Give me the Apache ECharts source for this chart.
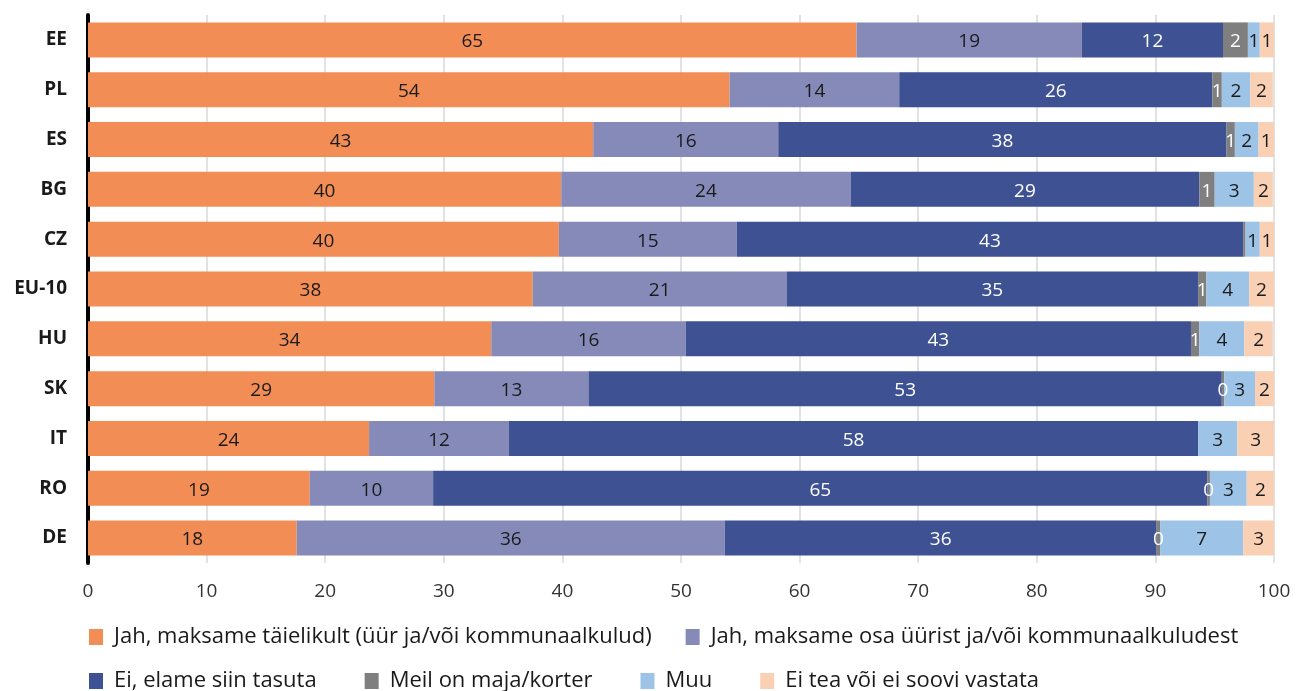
<!DOCTYPE html>
<html>
<head>
<meta charset="utf-8">
<script src="https://cdn.jsdelivr.net/npm/echarts@6/dist/echarts.min.js"></script>
<style>
html,body{margin:0;padding:0;background:#fff;}
#c{width:1297px;height:691px;}
</style>
</head>
<body>
<div id="c"></div>
<script>
const categories = ['EE','PL','ES','BG','CZ','EU-10','HU','SK','IT','RO','DE'];
const seriesNames = [
  'Jah, maksame täielikult (üür ja/või kommunaalkulud)',
  'Jah, maksame osa üürist ja/või kommunaalkuludest',
  'Ei, elame siin tasuta',
  'Meil on maja/korter',
  'Muu',
  'Ei tea või ei soovi vastata'
];
const payFull    = [64.8, 54.1, 42.6, 39.9, 39.7, 37.5, 34.0, 29.2, 23.7, 18.7, 17.6];
const payPartial = [19.0, 14.3, 15.6, 24.4, 15.0, 21.4, 16.4, 13.0, 11.8, 10.4, 36.1];
const liveFree   = [11.9, 26.4, 37.8, 29.4, 42.7, 34.7, 42.6, 53.4, 58.1, 65.3, 36.4];
const ownHome    = [2.1, 0.8, 0.7, 1.3, 0.2, 0.7, 0.7, 0.2, null, 0.2, 0.3];
const other      = [1.0, 2.4, 2.0, 3.3, 1.2, 3.6, 3.8, 2.6, 3.3, 3.1, 7.0];
const dontKnow   = [1.2, 1.9, 1.3, 1.6, 1.2, 2.1, 2.4, 1.6, 3.1, 2.3, 2.6];
const hiddenOwnLabels = ['CZ'];
const xTicks = [0,10,20,30,40,50,60,70,80,90,100];

const colors = ['#F28E55','#868AB9','#3E5192','#7F7F7F','#9DC3E6','#F9D0B4'];
const labelColors = ['#1a1a1a','#1a1a1a','#ffffff','#ffffff','#1a1a1a','#1a1a1a'];
const allData = [payFull, payPartial, liveFree, ownHome, other, dontKnow];

const FONT = 'Open Sans';
const chart = echarts.init(document.getElementById('c'), null, {renderer:'canvas'});
const series = allData.map((d, i) => ({
  name: seriesNames[i],
  type: 'bar',
  stack: 'total',
  barWidth: 35,
  data: d,
  itemStyle: {color: colors[i]},
  label: {
    show: true,
    position: 'inside',
    color: labelColors[i],
    fontFamily: FONT,
    fontSize: 19,
    offset: [0, 2],
    formatter: p => {
      if (p.value == null) return '';
      if (i === 3 && hiddenOwnLabels.indexOf(p.name) >= 0) return '';
      return String(Math.round(p.value));
    }
  },
  emphasis: {disabled: true}
}));

const legendText = {fontFamily: FONT, fontSize: 22, color: '#1a1a1a', padding: [0, 0, 0, 6]};
chart.setOption({
  animation: false,
  textStyle: {fontFamily: FONT},
  grid: {left: 88, right: 23, top: 15, height: 548, containLabel: false},
  xAxis: {
    type: 'value', min: 0, max: 100, interval: 10,
    axisLine: {show: false}, axisTick: {show: false},
    axisLabel: {fontFamily: FONT, fontSize: 19, color: '#333', margin: 19,
      formatter: v => xTicks.indexOf(v) >= 0 ? String(v) : ''},
    splitLine: {show: true, lineStyle: {color: '#D9D9D9', width: 1.5}}
  },
  yAxis: {
    type: 'category', data: categories, inverse: true, offset: 3,
    axisLine: {show: true, lineStyle: {color: '#000', width: 4}},
    axisTick: {show: false},
    axisLabel: {fontFamily: FONT, fontSize: 19, fontWeight: 'bold', color: '#1a1a1a', margin: 18}
  },
  legend: [
    {
      data: seriesNames.slice(0, 2), left: 84, top: 621, itemWidth: 14, itemHeight: 16,
      itemGap: 34, textStyle: legendText, icon: 'rect'
    },
    {
      data: seriesNames.slice(2), left: 84, top: 665, itemWidth: 14, itemHeight: 16,
      itemGap: 48, textStyle: legendText, icon: 'rect'
    }
  ],
  series: series
});
</script>
</body>
</html>
